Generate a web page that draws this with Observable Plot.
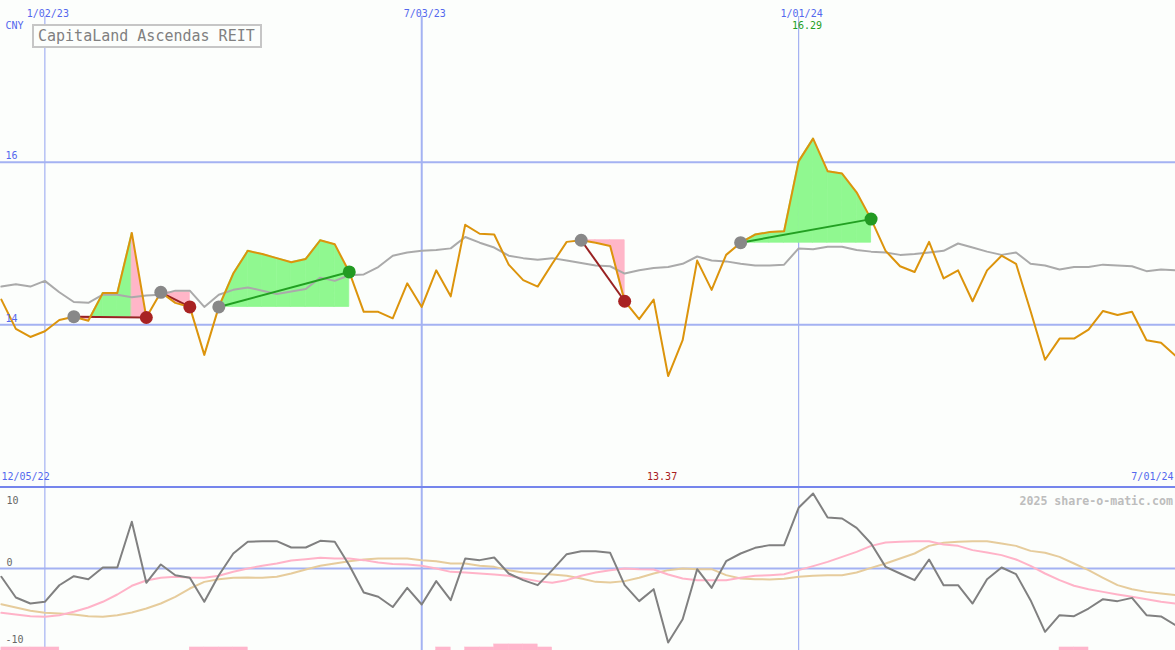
<!DOCTYPE html>
<html><head><meta charset="utf-8">
<script src="https://cdn.jsdelivr.net/npm/d3@7"></script>
<script src="https://cdn.jsdelivr.net/npm/@observablehq/plot@0.6"></script>
<style>
body{margin:0;background:#fcfefc;}
#chart{position:relative;width:1175px;height:650px;overflow:hidden;background:#fcfefc;}
#chart svg{display:block;}
#sep{height:2px;background:#7585ec;}
#title{position:absolute;left:32px;top:24px;width:222px;height:20px;border:2px solid #c6c6c6;background:#fcfefc;
  font-family:"DejaVu Sans Mono",monospace;font-size:15px;line-height:20px;color:#808080;padding-left:4px;box-sizing:content-box;}
</style></head><body><div id="chart"></div>
<script>
// ---- data ----
const startDate = "2022-12-12";           // first weekly close
const price = [14.31,13.95,13.85,13.92,14.06,14.10,14.05,14.39,14.39,15.13,
14.09,14.40,14.27,14.22,13.63,14.22,14.63,14.91,14.87,14.82,
14.77,14.81,15.04,14.99,14.65,14.16,14.16,14.08,14.51,14.22,
14.67,14.35,15.23,15.12,15.11,14.74,14.55,14.47,14.75,15.02,
15.04,15.01,14.97,14.29,14.07,14.31,13.37,13.81,14.79,14.43,
14.86,15.01,15.11,15.14,15.15,16.01,16.29,15.89,15.86,15.63,
15.30,14.91,14.72,14.65,15.02,14.57,14.67,14.29,14.67,14.85,
14.75,14.17,13.57,13.83,13.83,13.94,14.17,14.12,14.16,13.81,
13.78,13.62];
const avg = [14.47,14.50,14.47,14.54,14.40,14.28,14.27,14.37,14.37,14.34,
14.36,14.37,14.42,14.42,14.22,14.37,14.43,14.46,14.42,14.38,
14.41,14.44,14.58,14.54,14.61,14.62,14.71,14.85,14.89,14.91,
14.92,14.94,15.08,15.01,14.95,14.85,14.82,14.80,14.82,14.79,
14.76,14.73,14.72,14.63,14.67,14.70,14.71,14.75,14.84,14.79,
14.78,14.75,14.73,14.73,14.74,14.94,14.93,14.96,14.96,14.92,
14.90,14.89,14.86,14.87,14.89,14.91,15.00,14.95,14.90,14.86,
14.89,14.75,14.73,14.68,14.71,14.71,14.74,14.73,14.72,14.66,
14.68,14.67];
const momentum = [-1.01,-3.54,-4.27,-4.06,-2.04,-0.94,-1.30,0.12,0.12,5.70,
-1.74,0.49,-0.82,-1.13,-4.06,-0.82,1.83,3.26,3.33,3.33,
2.56,2.56,3.38,3.26,0.40,-2.93,-3.45,-4.70,-2.36,-4.39,
-1.54,-3.86,1.22,1.02,1.34,-0.61,-1.42,-2.03,-0.20,1.75,
2.11,2.11,1.91,-2.03,-3.98,-2.52,-9.02,-6.18,-0.08,-2.36,
0.89,1.83,2.52,2.85,2.85,7.40,9.15,6.22,6.10,4.96,
3.05,0.20,-0.61,-1.42,1.10,-2.03,-2.03,-4.27,-1.30,0.12,
-0.69,-3.86,-7.72,-5.69,-5.81,-4.88,-3.74,-3.98,-3.58,-5.69,
-5.85,-6.91];
const fastAvg = [-5.41,-5.61,-5.81,-5.89,-5.69,-5.28,-4.76,-4.06,-3.17,-2.11,
-1.46,-1.13,-1.01,-1.10,-1.13,-0.89,-0.40,0.00,0.33,0.61,
0.98,1.13,1.30,1.22,1.22,1.02,0.73,0.55,0.50,0.33,
0.00,-0.41,-0.49,-0.61,-0.73,-0.89,-1.22,-1.54,-1.75,-1.42,
-0.89,-0.49,-0.20,0.00,-0.08,-0.12,-0.73,-1.22,-1.42,-1.42,
-1.42,-1.13,-0.89,-0.81,-0.71,-0.20,0.29,0.81,1.42,2.03,
2.76,3.17,3.25,3.33,3.33,2.93,2.76,2.24,1.95,1.63,
1.10,0.33,-0.61,-1.42,-2.11,-2.52,-2.85,-3.17,-3.45,-3.74,
-4.06,-4.27];
const slowAvg = [-4.35,-4.76,-5.16,-5.41,-5.49,-5.61,-5.81,-5.89,-5.69,-5.37,
-4.88,-4.27,-3.45,-2.44,-1.63,-1.30,-1.13,-1.10,-1.13,-1.01,
-0.61,-0.12,0.33,0.61,0.89,1.10,1.22,1.22,1.22,1.02,
0.89,0.61,0.61,0.33,0.20,-0.20,-0.49,-0.61,-0.73,-0.89,
-1.22,-1.63,-1.71,-1.54,-1.13,-0.61,-0.20,0.00,-0.08,-0.08,
-0.81,-1.22,-1.30,-1.34,-1.26,-1.01,-0.89,-0.81,-0.81,-0.49,
0.08,0.61,1.22,1.83,2.76,3.13,3.25,3.33,3.33,3.05,
2.76,2.15,1.91,1.42,0.61,-0.20,-1.13,-2.03,-2.52,-2.85,
-3.05,-3.25];
const signal = [1,1,1,1,0,0,0,0,0,0, 0,0,0,1,1,1,1,0,0,0, 0,0,0,0,0,0,0,0,0,0,
1,0,1,1,2,2,2,1,0,0, 0,0,0,0,0,0,0,0,0,0, 0,0,0,0,0,0,0,0,0,0,
0,0,0,0,0,0,0,0,0,0, 0,0,0,1,1,0,0,0,0,0, 0,0];
const entryIdx = [5, 11, 15, 40, 51];
const exitIdx  = [10, 13, 24, 43, 60];
const gridDates = ["2023-01-02", "2023-07-03", "2024-01-01"];
const gridLabels = ["1/02/23", "7/03/23", "1/01/24"];
const gridMid = [false, true, false];
const priceTicks = [16, 14];
const oscTicks = [10, 0, -10];
const firstLabel = "12/05/22", lastLabel = "7/01/24";
const title = "CapitaLand Ascendas REIT";
const currency = "CNY";

// ---- derived ----
const dates = price.map((_, i) => d3.utcWeek.offset(new Date(startDate), i));
const rows = dates.map((date, i) => ({date, price: price[i], avg: avg[i], mom: momentum[i], fast: fastAvg[i], slow: slowAvg[i], sig: signal[i]}));
const grid = gridDates.map((d, i) => ({date: new Date(d), label: gridLabels[i], mid: gridMid[i]}));
const trades = entryIdx.map((e, t) => ({d1: dates[e], p1: price[e], d2: dates[exitIdx[t]], p2: price[exitIdx[t]], win: price[exitIdx[t]] > price[e]}));
const segs = [];
entryIdx.forEach((e, t) => {
  const base = price[e];
  for (let k = e; k < exitIdx[t]; k++) {
    const up = price[k + 1] > base, seg = t + "-" + k;
    segs.push({seg, date: dates[k], base, p: price[k], up}, {seg, date: dates[k + 1], base, p: price[k + 1], up});
  }
});
const iMax = d3.maxIndex(price), iMin = d3.minIndex(price);
const bars = rows.slice(0, -1).map((r, i) => ({x1: r.date, x2: dates[i + 1], lvl: r.sig})).filter(d => d.lvl > 0);

const BLUE = "#5468ee", GRID = "#a4b2f2", GREENFILL = "#90f890", PINKFILL = "#ffb6c8";
const xOpt = {type: "utc", domain: [dates[0], dates[dates.length - 1]], range: [0.86, 1175], axis: null};
const style = {background: "transparent", fontFamily: "DejaVu Sans Mono, monospace", fontSize: "10px", overflow: "visible"};

const topPlot = Plot.plot({
  width: 1175, height: 486, margin: 0, style,
  x: xOpt,
  y: {domain: [14, 16], range: [324.3, 161.7], axis: null},
  marks: [
    Plot.ruleY(priceTicks, {stroke: GRID, strokeWidth: 2}),
    Plot.ruleX(grid.filter(d => !d.mid), {x: "date", stroke: GRID, strokeWidth: 1.2, insetTop: 16}),
    Plot.ruleX(grid.filter(d => d.mid), {x: "date", stroke: GRID, strokeWidth: 2, insetTop: 16}),
    Plot.areaY(segs.filter(d => d.up), {x: "date", y1: "base", y2: "p", z: "seg", fill: GREENFILL, stroke: GREENFILL, strokeWidth: 0.8}),
    Plot.areaY(segs.filter(d => !d.up), {x: "date", y1: "base", y2: "p", z: "seg", fill: PINKFILL, stroke: PINKFILL, strokeWidth: 0.8}),
    Plot.lineY(rows, {x: "date", y: "avg", stroke: "#aaaaaa", strokeWidth: 2}),
    Plot.link(trades.filter(d => d.win), {x1: "d1", y1: "p1", x2: "d2", y2: "p2", stroke: "#22a022", strokeWidth: 2}),
    Plot.link(trades.filter(d => !d.win), {x1: "d1", y1: "p1", x2: "d2", y2: "p2", stroke: "#992222", strokeWidth: 2}),
    Plot.lineY(rows, {x: "date", y: "price", stroke: "#dc940c", strokeWidth: 2}),
    Plot.dot(trades, {x: "d1", y: "p1", r: 6.5, fill: "#888888"}),
    Plot.dot(trades.filter(d => d.win), {x: "d2", y: "p2", r: 6.5, fill: "#229a22"}),
    Plot.dot(trades.filter(d => !d.win), {x: "d2", y: "p2", r: 6.5, fill: "#a82222"}),
    Plot.text(grid, {x: "date", text: "label", frameAnchor: "top", dy: 9, dx: 3, fill: BLUE}),
    Plot.text([currency], {text: d => d, frameAnchor: "top-left", dx: 5, dy: 21, textAnchor: "start", fill: BLUE}),
    Plot.text(priceTicks, {y: d => d, text: d => String(d), frameAnchor: "left", dx: 5, dy: -6, textAnchor: "start", fill: BLUE}),
    Plot.text([iMax], {x: i => dates[i], text: i => price[i].toFixed(2), frameAnchor: "top", dy: 21, dx: 9, textAnchor: "end", fill: "#1f9f1f"}),
    Plot.text([iMin], {x: i => dates[i], text: i => price[i].toFixed(2), frameAnchor: "bottom", dy: -7, dx: 9, textAnchor: "end", fill: "#a82020"}),
    Plot.text([firstLabel], {text: d => d, frameAnchor: "bottom-left", dx: 1, dy: -7, textAnchor: "start", fill: BLUE}),
    Plot.text([lastLabel], {text: d => d, frameAnchor: "bottom-right", dx: -2, dy: -7, textAnchor: "end", fill: BLUE})
  ]
});

const botPlot = Plot.plot({
  width: 1175, height: 162, margin: 0, style,
  x: xOpt,
  y: {domain: [-10, 10], range: [162, -2], axis: null},
  marks: [
    Plot.ruleX(grid.filter(d => !d.mid), {x: "date", stroke: GRID, strokeWidth: 1.2}),
    Plot.ruleX(grid.filter(d => d.mid), {x: "date", stroke: GRID, strokeWidth: 2}),
    Plot.ruleY([0], {stroke: GRID, strokeWidth: 2}),
    Plot.rect(bars, {x1: "x1", x2: "x2", y1: -10, y2: d => -10 + d.lvl * 0.37, fill: "#ffb6cc", stroke: "#ffb6cc", strokeWidth: 0.5}),
    Plot.lineY(rows, {x: "date", y: "slow", stroke: "#e6cc9c", strokeWidth: 2}),
    Plot.lineY(rows, {x: "date", y: "fast", stroke: "#ffb3c8", strokeWidth: 2}),
    Plot.lineY(rows, {x: "date", y: "mom", stroke: "#808080", strokeWidth: 2}),
    Plot.text([oscTicks[0]], {text: d => String(d), frameAnchor: "top-left", dx: 6, dy: 8, textAnchor: "start", fill: "#666666"}),
    Plot.text([oscTicks[1]], {y: d => d, text: d => String(d), frameAnchor: "left", dx: 6, dy: -6, textAnchor: "start", fill: "#666666"}),
    Plot.text([oscTicks[2]], {text: d => String(d), frameAnchor: "bottom-left", dx: 5, dy: -8, textAnchor: "start", fill: "#666666"}),
    Plot.text(["2025 share-o-matic.com"], {text: d => d, frameAnchor: "top-right", dx: -2.5, dy: 8, textAnchor: "end", fill: "#bdbdbd", fontWeight: "bold", fontSize: 11.6})
  ]
});

const chart = document.getElementById("chart");
chart.appendChild(topPlot);
const sep = document.createElement("div"); sep.id = "sep"; chart.appendChild(sep);
chart.appendChild(botPlot);
const t = document.createElement("div"); t.id = "title"; t.textContent = title; chart.appendChild(t);
</script></body></html>
